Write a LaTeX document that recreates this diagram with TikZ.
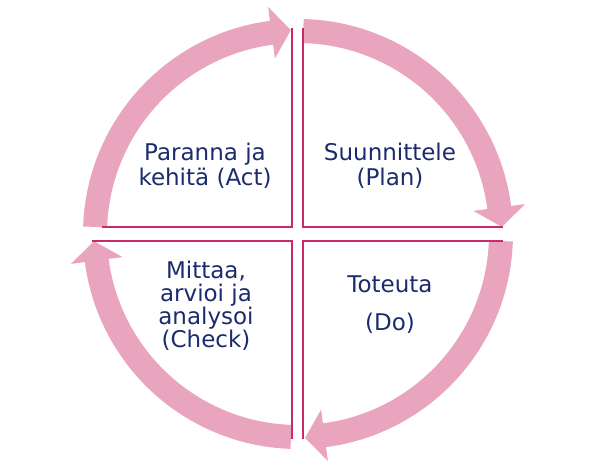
\documentclass[tikz,border=0pt]{standalone}
\usepackage{fontspec}
\setmainfont{DejaVu Sans}
\definecolor{arrowpink}{RGB}{233,165,189}
\definecolor{crossred}{RGB}{200,42,110}
\definecolor{labelblue}{RGB}{27,43,110}
\begin{document}
\begin{tikzpicture}[x=1pt,y=1pt,
  quarter/.style={fill=arrowpink},
  cross/.style={draw=crossred,line width=1.8pt},
  phase/.style={text=labelblue,align=center,inner sep=0pt,font=\fontsize{23}{25}\selectfont}]

  \useasboundingbox (-298,-239) rectangle (302,234);

  \fill [quarter] (88.5:215) arc[start angle=88.5,end angle=7.5,radius=215] -- (7.5:229) -- (2:204) -- (7.5:177) -- (7.5:191) arc[start angle=7.5,end angle=88.5,radius=191] -- cycle;
  \fill [quarter] (358:215) arc[start angle=358,end angle=277.5,radius=215] -- (277.5:229) -- (272:204) -- (277.5:177) -- (277.5:191) arc[start angle=277.5,end angle=358,radius=191] -- cycle;
  \fill [quarter] (268:215) arc[start angle=268,end angle=187.5,radius=215] -- (187.5:229) -- (182:204) -- (187.5:177) -- (187.5:191) arc[start angle=187.5,end angle=268,radius=191] -- cycle;
  \fill [quarter] (178:215) arc[start angle=178,end angle=97.5,radius=215] -- (97.5:229) -- (92:204) -- (97.5:177) -- (97.5:191) arc[start angle=97.5,end angle=178,radius=191] -- cycle;

  \draw [cross] (-196,7) -- (-6,7) -- (-6,206);
  \draw [cross] (5,206) -- (5,7) -- (205,7);
  \draw [cross] (205,-7) -- (5,-7) -- (5,-205);
  \draw [cross] (-6,-205) -- (-6,-7) -- (-206,-7);

  \node (act) at (-93,68) [phase] {Paranna ja\\kehitä (Act)};
  \node (plan) at (92,68) [phase] {Suunnittele\\(Plan)};
  \node (do) at (92,-71) [phase] {Toteuta\\[13pt](Do)};
  \node (check) at (-92,-72) [phase,font=\fontsize{23}{23}\selectfont] {Mittaa,\\arvioi ja\\analysoi\\(Check)};

\end{tikzpicture}
\end{document}
